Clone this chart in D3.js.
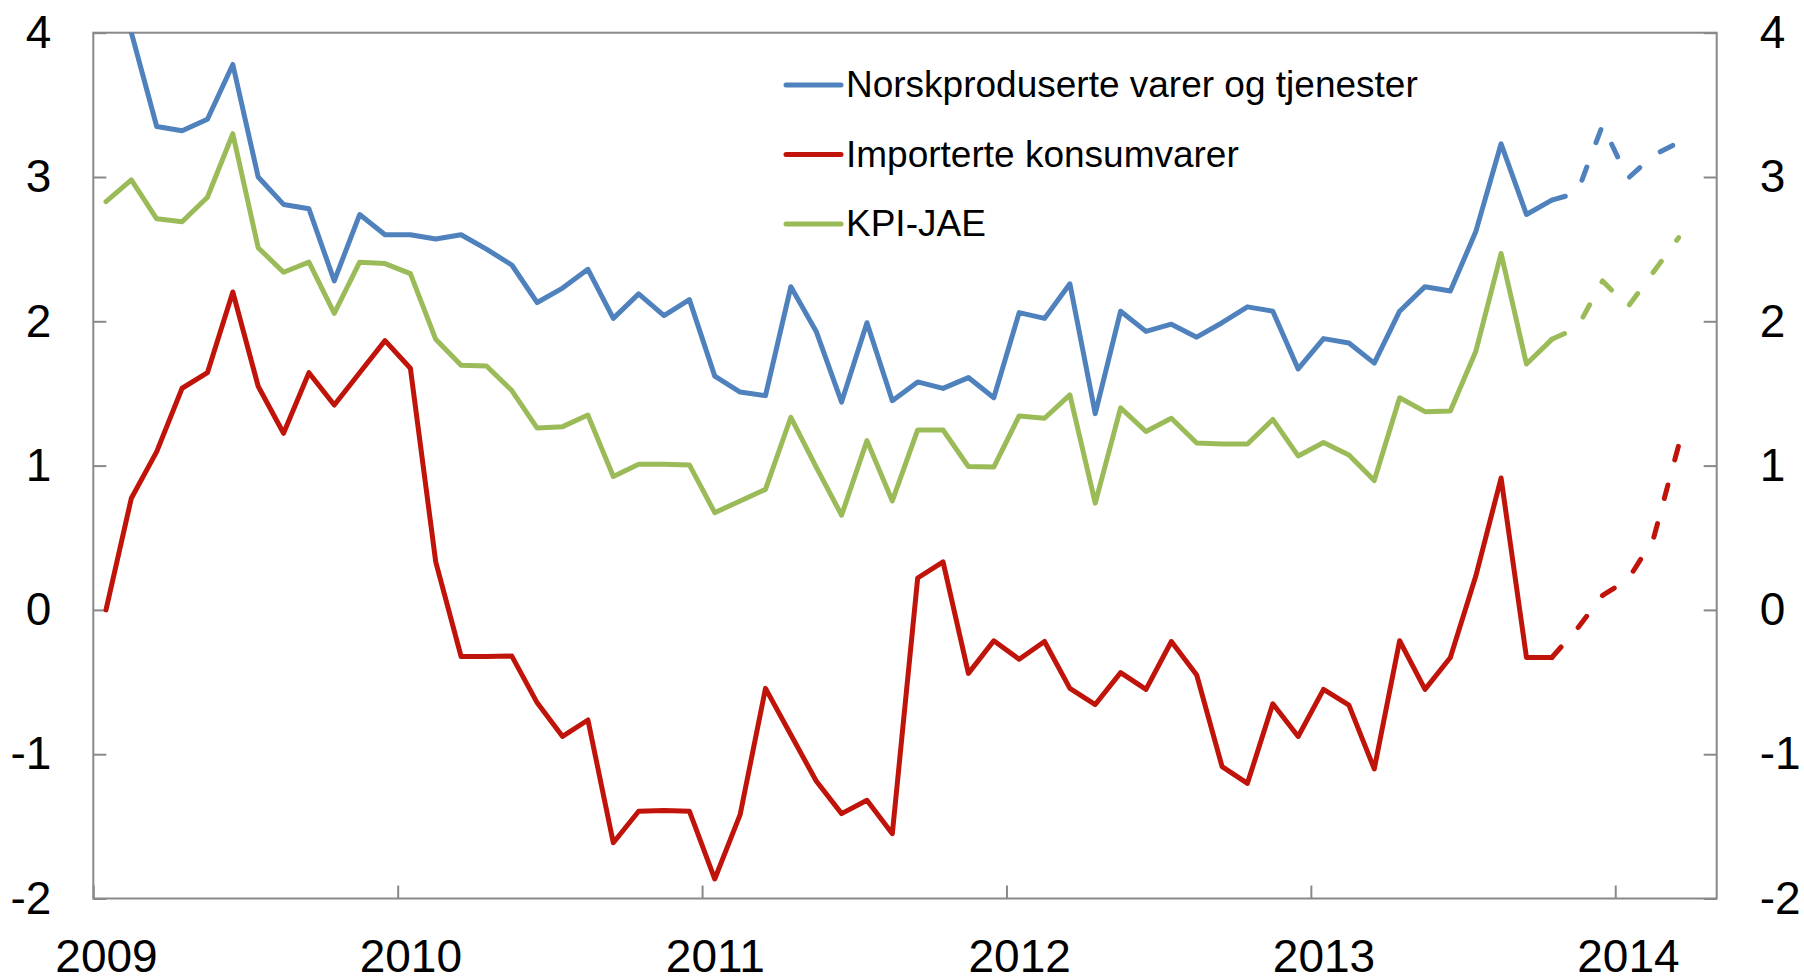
<!DOCTYPE html>
<html>
<head>
<meta charset="utf-8">
<script src="https://cdn.jsdelivr.net/npm/d3@7"></script>
<style>
  body { margin: 0; background: #fff; }
  text { font-family: "Liberation Sans", Arial, sans-serif; fill: #000; }
</style>
</head>
<body>
<script>
// Norwegian CPI components, 12-month change, Jan 2009 - Mar 2014 (dashed = projection)

const width = 1804, height = 976;
const margin = {top: 32.7, right: 87.3, bottom: 77.5, left: 93.3};

// series values, one per month from Jan 2009 (month 0) to Oct 2013 (month 57)
const norsk = [4.4, 4.0, 3.35, 3.32, 3.40, 3.78, 3.00, 2.81, 2.78, 2.28, 2.74, 2.60,
               2.60, 2.57, 2.60, 2.50, 2.39, 2.13, 2.23, 2.36, 2.02, 2.19, 2.04, 2.15,
               1.62, 1.51, 1.485, 2.24, 1.93, 1.44, 1.99, 1.45, 1.58, 1.535, 1.61, 1.47,
               2.06, 2.02, 2.26, 1.36, 2.07, 1.93, 1.98, 1.89, 1.99, 2.10, 2.07, 1.67,
               1.88, 1.85, 1.71, 2.07, 2.24, 2.21, 2.62, 3.23, 2.74, 2.84];
const importert = [0, 0.774, 1.097, 1.536, 1.644, 2.203, 1.55, 1.224, 1.644, 1.42, 1.643, 1.866,
                   1.675, 0.333, -0.323, -0.323, -0.32, -0.644, -0.877, -0.763, -1.614, -1.395, -1.39, -1.395,
                   -1.865, -1.419, -0.544, -0.865, -1.186, -1.412, -1.319, -1.551, 0.221, 0.333, -0.44, -0.214,
                   -0.342, -0.219, -0.544, -0.656, -0.435, -0.551, -0.219, -0.451, -1.086, -1.202, -0.651, -0.877,
                   -0.551, -0.66, -1.102, -0.214, -0.551, -0.33, 0.233, 0.914, -0.33, -0.33];
const kpiJae = [2.83, 2.98, 2.71, 2.69, 2.86, 3.30, 2.51, 2.34, 2.41, 2.055, 2.41, 2.40,
                2.33, 1.875, 1.695, 1.69, 1.52, 1.26, 1.27, 1.35, 0.925, 1.01, 1.01, 1.005,
                0.674, 0.755, 0.835, 1.335, 0.99, 0.656, 1.173, 0.755, 1.247, 1.247, 0.993, 0.99,
                1.344, 1.328, 1.49, 0.74, 1.40, 1.236, 1.328, 1.157, 1.15, 1.15, 1.32, 1.067,
                1.16, 1.074, 0.896, 1.47, 1.374, 1.379, 1.79, 2.47, 1.704, 1.875];

// projections, Oct 2013 (month 57) to Mar 2014 (month 62)
const projStart = 57;
const norskProj = [2.84, 2.89, 3.36, 2.99, 3.15, 3.24];
const importertProj = [-0.33, -0.13, 0.10, 0.21, 0.49, 1.14];
const kpiJaeProj = [1.875, 1.955, 2.28, 2.10, 2.34, 2.58];

const seriesNames = ["Norskproduserte varer og tjenester", "Importerte konsumvarer", "KPI-JAE"];
const colors = ["#4f81bd", "#c0140a", "#9bbb59"];

const yTicks = [-2, -1, 0, 1, 2, 3, 4];
const years = [2009, 2010, 2011, 2012, 2013, 2014];
const nMonths = 64; // Jan 2009 .. Apr 2014

const svg = d3.select("body").append("svg")
    .attr("width", width)
    .attr("height", height);

const x = d3.scaleLinear().domain([0, nMonths]).range([margin.left, width - margin.right]);
const y = d3.scaleLinear().domain([-2, 4]).range([height - margin.bottom, margin.top]);

svg.append("clipPath").attr("id", "plot-clip")
  .append("rect")
    .attr("x", x(0)).attr("y", y(4))
    .attr("width", x(nMonths) - x(0)).attr("height", y(-2) - y(4));

// axes
const axisColor = "#898989";
const fontSize = 46;
const fmt = d => String(d);

const yLeft = svg.append("g")
    .attr("transform", "translate(" + x(0) + ",0)")
    .call(d3.axisLeft(y).tickValues(yTicks).tickFormat(fmt).tickSizeInner(-13).tickSizeOuter(0).tickPadding(42));
const yRight = svg.append("g")
    .attr("transform", "translate(" + x(nMonths) + ",0)")
    .call(d3.axisRight(y).tickValues(yTicks).tickFormat(fmt).tickSizeInner(-13).tickSizeOuter(0).tickPadding(43));
const xTicks = svg.append("g")
    .attr("transform", "translate(0," + y(-2) + ")")
    .call(d3.axisBottom(x).tickValues(years.map((d, i) => i * 12)).tickSizeInner(-13).tickSizeOuter(0).tickFormat(""));
const xLabels = svg.append("g")
    .attr("transform", "translate(0," + y(-2) + ")")
    .call(d3.axisBottom(x).tickValues(years.map((d, i) => i * 12 + 0.5)).tickSize(0).tickPadding(41)
          .tickFormat((d, i) => years[i]));

[yLeft, yRight, xTicks, xLabels].forEach(g => {
  g.attr("font-family", null);
  g.selectAll(".domain").remove();
  g.selectAll("line").attr("stroke", axisColor).attr("stroke-width", 2);
  g.selectAll("text").attr("font-size", fontSize).attr("fill", "#000");
});
xLabels.selectAll("line").remove();

svg.append("rect")
    .attr("x", x(0)).attr("y", y(4))
    .attr("width", x(nMonths) - x(0)).attr("height", y(-2) - y(4))
    .attr("fill", "none")
    .attr("stroke", axisColor)
    .attr("stroke-width", 2);

// lines
const line = d3.line()
    .x(d => x(d.m + 0.5))
    .y(d => y(d.v));

const hist = [norsk, importert, kpiJae];
const proj = [norskProj, importertProj, kpiJaeProj];
const plot = svg.append("g").attr("clip-path", "url(#plot-clip)");
const lineWidth = 5;

[2, 1, 0].forEach(k => {
  plot.append("path")
      .datum(hist[k].map((v, m) => ({m: m, v: v})))
      .attr("d", line)
      .attr("fill", "none")
      .attr("stroke", colors[k])
      .attr("stroke-width", lineWidth)
      .attr("stroke-linejoin", "round")
      .attr("stroke-linecap", "round");
  plot.append("path")
      .datum(proj[k].map((v, i) => ({m: projStart + i, v: v})))
      .attr("d", line)
      .attr("fill", "none")
      .attr("stroke", colors[k])
      .attr("stroke-width", lineWidth)
      .attr("stroke-dasharray", "14,26")
      .attr("stroke-linejoin", "round")
      .attr("stroke-linecap", "round");
});

// legend
const legend = svg.append("g").attr("transform", "translate(786,85)");
const item = legend.selectAll("g").data(seriesNames).join("g")
    .attr("transform", (d, i) => "translate(0," + i * 69.5 + ")");
item.append("line")
    .attr("x1", 0).attr("x2", 55)
    .attr("stroke", (d, i) => colors[i])
    .attr("stroke-width", lineWidth)
    .attr("stroke-linecap", "round");
item.append("text")
    .attr("x", 60)
    .attr("dy", "0.33em")
    .attr("font-size", 37)
    .text(d => d);
</script>
</body>
</html>
